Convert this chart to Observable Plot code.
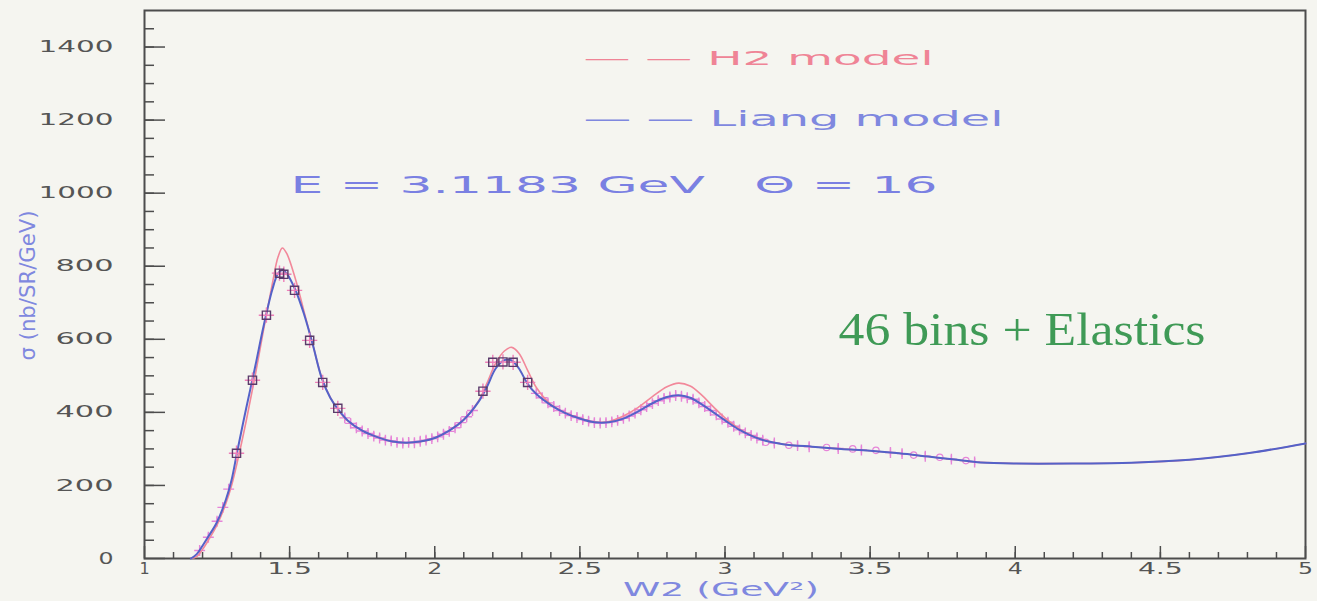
<!DOCTYPE html>
<html>
<head>
<meta charset="utf-8">
<script src="https://cdn.jsdelivr.net/npm/d3@7"></script>
<script src="https://cdn.jsdelivr.net/npm/@observablehq/plot@0.6"></script>
<style>
  html, body { margin: 0; padding: 0; background: #f5f5f0; }
  #chart { width: 1317px; height: 601px; overflow: hidden; }
</style>
</head>
<body>
<div id="chart"></div>
<script>
// Model curves: W2 grid (GeV^2) and cross sections (nb/SR/GeV)
const modelW = [1.16, 1.18, 1.20, 1.22, 1.25, 1.28, 1.30, 1.32, 1.35, 1.38, 1.41, 1.44, 1.46, 1.475, 1.49,
  1.52, 1.55, 1.58, 1.61, 1.64, 1.67, 1.70, 1.75, 1.80, 1.85, 1.90, 1.95, 2.00, 2.05, 2.10, 2.15, 2.18,
  2.21, 2.24, 2.265, 2.29, 2.32, 2.35, 2.40, 2.45, 2.50, 2.55, 2.60, 2.65, 2.70, 2.75, 2.80, 2.84, 2.88,
  2.92, 2.96, 3.00, 3.05, 3.10, 3.15, 3.20, 3.30, 3.40, 3.50, 3.60, 3.70, 3.80, 3.88, 4.00, 4.20, 4.40,
  4.60, 4.80, 5.00];
const liangSigma = [0, 12, 35, 60, 100, 160, 215, 295, 410, 520, 635, 735, 780, 790, 780,
  735, 668, 585, 495, 440, 405, 378, 350, 333, 321, 317, 320, 330, 350, 380, 428, 470,
  520, 543, 542, 520, 478, 450, 420, 398, 383, 373, 373, 383, 402, 425, 442, 447, 440,
  422, 400, 378, 352, 333, 320, 313, 306, 300, 295, 288, 279, 270, 263, 260, 260, 262,
  270, 288, 315];
const h2Sigma = [0, 5, 25, 50, 92, 150, 200, 265, 375, 495, 625, 750, 825, 850, 835,
  765, 675, 585, 497, 441, 404, 377, 350, 333, 321, 317, 320, 330, 350, 380, 430, 480,
  535, 568, 578, 562, 515, 468, 422, 399, 384, 374, 375, 390, 413, 443, 470, 480, 472,
  447, 415, 385, 355, 334, 321, 313, 306, 300, 295, 288, 279, 270, 263, 260, 260, 262,
  270, 288, 315];

// Measured points (fine bins)
const crossW = [1.19, 1.22, 1.25, 1.27, 1.29, 1.69, 1.71, 1.73, 1.75, 1.77, 1.79, 1.81, 1.83, 1.85, 1.87,
  1.89, 1.91, 1.93, 1.95, 1.97, 1.99, 2.01, 2.03, 2.05, 2.07, 2.09, 2.11, 2.13, 2.35, 2.37, 2.39, 2.41,
  2.43, 2.45, 2.47, 2.49, 2.51, 2.53, 2.55, 2.57, 2.59, 2.61, 2.63, 2.65, 2.67, 2.69, 2.71, 2.73, 2.75,
  2.77, 2.79, 2.81, 2.83, 2.85, 2.87, 2.89, 2.91, 2.93, 2.95, 2.97, 2.99, 3.01, 3.03, 3.05, 3.07, 3.09,
  3.11, 3.13, 3.17, 3.25, 3.29, 3.39, 3.47, 3.57, 3.61, 3.69, 3.78, 3.86];
const crossSigma = [22, 58, 102, 140, 190, 385, 370, 358, 349, 342, 335, 330, 324, 322, 318,
  316, 318, 317, 321, 324, 328, 333, 340, 348, 358, 372, 388, 405, 452, 440, 426, 416,
  405, 398, 391, 386, 380, 376, 372, 371, 372, 374, 378, 384, 390, 398, 407, 416, 424,
  432, 438, 442, 446, 444, 440, 436, 426, 416, 405, 393, 382, 373, 362, 352, 344, 337,
  330, 324, 316, 309, 306, 301, 297, 290, 287, 280, 272, 264];
const crossErr = 10;

// Coarse bins (square markers)
const squareW = [1.317, 1.372, 1.42, 1.465, 1.48, 1.517, 1.569, 1.614, 1.666, 2.166, 2.20, 2.235, 2.27, 2.32];
const squareSigma = [288, 488, 666, 781, 778, 734, 597, 482, 411, 458, 537, 538, 537, 482];

// Open-circle points in the tail
const circleW = [3.14, 3.22, 3.35, 3.44, 3.52, 3.65, 3.74, 3.83];
const circleSigma = [318, 310, 304, 300, 296, 283, 277, 268];

// Axis ticks
const xMajor = [1, 1.5, 2, 2.5, 3, 3.5, 4, 4.5, 5];
const xMinor = d3.range(11, 50).map(d => d / 10);
const yMajor = [0, 200, 400, 600, 800, 1000, 1200, 1400];
const yMinor = d3.range(50, 1500, 50);

// Text strings
const yTitle = "σ (nb/SR/GeV)";
const xTitle = "W2 (GeV²)";
const legendH2 = "— — H2 model";
const legendLiang = "— — Liang model";
const kinematics = "E = 3.1183 GeV   Θ = 16";
const binsNote = "46 bins + Elastics";

const liang = modelW.map((w, i) => ({w, s: liangSigma[i]}));
const h2 = modelW.map((w, i) => ({w, s: h2Sigma[i]}));
const crosses = crossW.map((w, i) => ({w, s: crossSigma[i], e: crossErr}));
const squares = squareW.map((w, i) => ({w, s: squareSigma[i]}));
const circles = circleW.map((w, i) => ({w, s: circleSigma[i]}));

const axisGray = "#4d4d4d";
const blueText = "#7f88df";
const pinkText = "#ef8496";
const crossColor = "#e684d8";

const marginLeft = 144, marginRight = 12, marginTop = 10, marginBottom = 43;
const W = 1317, H = 601;
const frameW = W - marginLeft - marginRight;
const frameH = H - marginTop - marginBottom;

const chart = Plot.plot({
  width: W,
  height: H,
  marginLeft, marginRight, marginTop, marginBottom,
  x: {domain: [1, 5], axis: null},
  y: {domain: [0, 1500], axis: null},
  style: {background: "transparent", fontFamily: "'DejaVu Sans', sans-serif"},
  marks: [
    // inward ticks
    Plot.tickY(yMinor, {y: d => d, insetRight: frameW - 10, stroke: axisGray, strokeWidth: 1.5}),
    Plot.tickY(yMajor, {y: d => d, insetRight: frameW - 21, stroke: axisGray, strokeWidth: 1.5}),
    Plot.tickX(xMinor, {x: d => d, insetTop: frameH - 6, stroke: axisGray, strokeWidth: 1.5}),
    Plot.tickX(xMajor, {x: d => d, insetTop: frameH - 12, stroke: axisGray, strokeWidth: 1.5}),
    Plot.frame({stroke: axisGray, strokeWidth: 2}),

    // tick labels
    Plot.text(yMajor, {y: d => d, text: d => String(d), frameAnchor: "left", dx: -31, textAnchor: "end",
      lineAnchor: "middle", fontSize: 16, fill: "#555"}),
    Plot.text(xMajor, {x: d => d, text: d => String(d), frameAnchor: "bottom", dy: 10, lineAnchor: "middle",
      fontSize: 16, fill: "#555"}),

    // axis titles (the vertical one runs upward from its start)
    Plot.text([yTitle], {text: d => d, frameAnchor: "left", dx: -117, dy: 76, rotate: -90,
      textAnchor: "start", lineAnchor: "middle", fontSize: 22, fill: blueText}),
    Plot.text([xTitle], {text: d => d, frameAnchor: "bottom", dx: -4, dy: 31, lineAnchor: "middle",
      fontSize: 19, fill: blueText}),

    // fine-bin data with error bars
    Plot.ruleX(crosses, {x: "w", y1: d => d.s - d.e, y2: d => d.s + d.e, stroke: crossColor, strokeWidth: 1.3}),
    Plot.dot(crosses, {x: "w", y: "s", symbol: "plus", r: 3.6, stroke: crossColor, strokeWidth: 1.4}),
    Plot.dot(circles, {x: "w", y: "s", symbol: "circle", r: 3.2, stroke: crossColor, strokeWidth: 1.2, fill: "none"}),

    // model curves
    Plot.line(h2, {x: "w", y: "s", curve: "catmull-rom", stroke: "#f2889a", strokeWidth: 1.6}),
    Plot.line(liang, {x: "w", y: "s", curve: "catmull-rom", stroke: "#5462c8", strokeWidth: 2}),

    // coarse bins
    Plot.dot(squares, {x: "w", y: "s", symbol: "plus", r: 5, stroke: "#ee7fb8", strokeWidth: 1.4}),
    Plot.dot(squares, {x: "w", y: "s", symbol: "square", r: 4.6, stroke: "#5b3b6b", strokeWidth: 1.4, fill: "none"}),

    // legend and annotations
    Plot.text([legendH2], {text: d => d, frameAnchor: "top-left", dx: 583 - marginLeft, dy: 58 - marginTop,
      textAnchor: "start", lineAnchor: "middle", fontSize: 19, fill: pinkText}),
    Plot.text([legendLiang], {text: d => d, frameAnchor: "top-left", dx: 583 - marginLeft, dy: 119 - marginTop,
      textAnchor: "start", lineAnchor: "middle", fontSize: 21, fill: blueText}),
    Plot.text([kinematics], {text: d => d, frameAnchor: "top-left", dx: 290 - marginLeft,
      dy: 185 - marginTop, textAnchor: "start", lineAnchor: "middle", fontSize: 23, fill: "#7a80e2"}),
    Plot.text([binsNote], {text: d => d, frameAnchor: "top-left", dx: 838 - marginLeft,
      dy: 330 - marginTop, textAnchor: "start", lineAnchor: "middle", fontSize: 46,
      fontFamily: "'Liberation Serif', 'DejaVu Serif', serif", fill: "#3f9a56"})
  ]
});

// Widen the plotter-style lettering to its drawn widths
const textWidths = new Map([
  [yTitle, 150], [xTitle, 196], [legendH2, 350], [legendLiang, 420], [kinematics, 647], [binsNote, 367]
]);
function tickLabelWidth(s) {
  if (!/^[0-9.]+$/.test(s) || s === "1") return null;
  if (s.length === 1) return 15;
  if (s.includes(".")) return 45;
  return s.length === 3 ? 58 : 75;
}
d3.select(chart).selectAll("text").each(function () {
  const s = this.textContent;
  const w = textWidths.get(s) ?? tickLabelWidth(s);
  if (w) {
    this.setAttribute("textLength", w);
    this.setAttribute("lengthAdjust", "spacingAndGlyphs");
  }
});

document.getElementById("chart").appendChild(chart);
</script>
</body>
</html>
